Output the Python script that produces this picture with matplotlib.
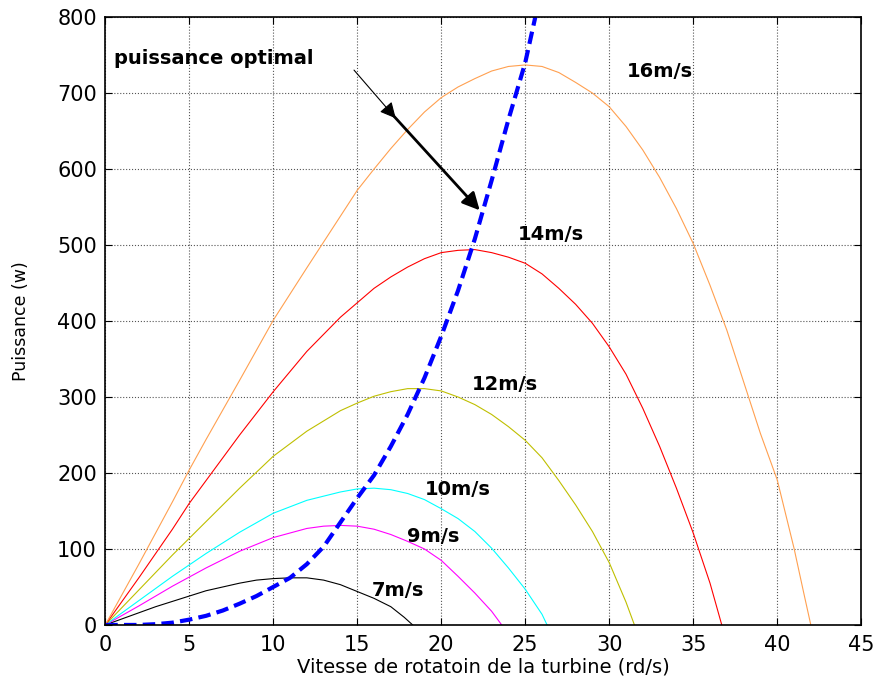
import matplotlib
matplotlib.use("Agg")
import matplotlib.pyplot as plt

# puissance vs vitesse de rotation, une courbe par vitesse de vent
v7_x = [0, 1, 2, 3, 4, 5, 6, 7, 8, 9, 10, 11, 12, 13, 14, 15, 16, 17, 17.8, 18.3]
v7_p = [0, 8, 16, 24, 31, 38, 45, 50, 55, 59, 61, 62, 62, 59, 53, 44, 35, 24, 10, 0]

v9_x = [0, 2, 4, 5, 6, 8, 10, 12, 13, 14, 15, 16, 17, 18, 19, 20, 21, 22, 23, 23.6]
v9_p = [0, 25, 51, 63, 75, 97, 115, 127, 130, 131, 130, 126, 119, 110, 100, 85, 64, 42, 18, 0]

v10_x = [0, 2, 4, 5, 6, 8, 10, 12, 14, 15, 16, 17, 18, 19, 20, 21, 22, 23, 24, 25, 26, 26.3]
v10_p = [0, 32, 64, 79, 94, 122, 147, 164, 175, 179, 180, 178, 173, 165, 153, 140, 123, 101, 75, 47, 14, 0]

v12_x = [0, 2, 4, 5, 6, 8, 10, 12, 14, 15, 16, 17, 18, 19, 20, 21, 22, 23, 24, 25,
         26, 27, 28, 29, 30, 31, 31.5]
v12_p = [0, 46, 92, 114, 136, 180, 222, 255, 282, 292, 301, 307, 311, 311, 308, 300,
         290, 277, 261, 243, 220, 190, 158, 123, 82, 30, 0]

v14_x = [0, 2, 4, 5, 6, 8, 10, 12, 14, 15, 16, 17, 18, 19, 20, 21, 22, 23, 24, 25,
         26, 27, 28, 29, 30, 31, 32, 33, 34, 35, 36, 36.7]
v14_p = [0, 62, 126, 160, 190, 250, 307, 360, 405, 424, 443, 458, 471, 482, 490, 493,
         494, 490, 484, 476, 462, 443, 422, 397, 366, 330, 285, 235, 180, 121, 55, 0]

v16_x = [0, 2, 4, 5, 6, 8, 10, 12, 14, 15, 16, 17, 18, 19, 20, 21, 22, 23, 24, 25,
         26, 27, 28, 29, 30, 31, 32, 33, 34, 35, 36, 37, 38, 39, 40, 41, 41.6, 42]
v16_p = [0, 80, 162, 204, 244, 322, 401, 470, 538, 572, 600, 627, 652, 675, 694, 708,
         719, 729, 735, 737, 735, 727, 714, 700, 682, 656, 625, 589, 548, 502, 447, 388,
         320, 252, 191, 101, 40, 0]

opt_x = [0, 2, 3, 4, 5, 6, 7, 8, 9, 10, 11, 12, 13, 14, 15, 16, 17, 18, 19, 20, 21,
         22, 23, 24, 25, 25.6]
opt_p = [0, 0, 1, 3, 7, 12, 19, 28, 38, 50, 62, 80, 103, 135, 167, 197, 235, 277,
         325, 380, 440, 508, 585, 665, 740, 800]

labels = ["16m/s", "14m/s", "12m/s", "10m/s", "9m/s", "7m/s"]
label_x = [33.0, 26.5, 23.8, 21.0, 19.5, 17.4]
label_y = [728, 514, 317, 178, 116, 45]

fig = plt.figure(figsize=(8.77, 6.83), dpi=100)
ax = fig.add_axes([0.12, 0.085, 0.862, 0.89])

ax.plot(v7_x, v7_p, color="black", lw=0.8)
ax.plot(v9_x, v9_p, color="#ff00ff", lw=0.8)
ax.plot(v10_x, v10_p, color="#00ffff", lw=0.8)
ax.plot(v12_x, v12_p, color="#bfbf00", lw=0.8)
ax.plot(v14_x, v14_p, color="#ff0000", lw=0.8)
ax.plot(v16_x, v16_p, color="#ffa050", lw=0.8)
ax.plot(opt_x, opt_p, color="#0000ff", lw=3, ls=(0, (3, 1.5)))

for i in range(len(labels)):
    ax.text(label_x[i], label_y[i], labels[i], fontsize=14, fontweight="bold",
            ha="center", va="center")

# texte + fleches "puissance optimal"
ax.text(0.5, 746, "puissance optimal", fontsize=14, fontweight="bold",
        ha="left", va="center")
ax.annotate("", xy=(17.4, 664), xytext=(14.7, 733),
            arrowprops=dict(arrowstyle="-|>", color="black", lw=0.8, mutation_scale=24))
ax.annotate("", xy=(22.4, 543), xytext=(17.0, 674),
            arrowprops=dict(arrowstyle="-|>", color="black", lw=2, mutation_scale=26))

ax.set_xlim(0, 45)
ax.set_ylim(0, 800)
ax.set_xticks(range(0, 46, 5))
ax.set_yticks(range(0, 801, 100))
ax.grid(True, color="#555555", ls=":", lw=0.8)
ax.tick_params(direction="in", top=True, right=True, labelsize=15, length=5)
ax.tick_params(axis="x", pad=7)
ax.tick_params(axis="y", pad=6)
for s in ax.spines.values():
    s.set_linewidth(1.2)

ax.set_xlabel("Vitesse de rotatoin de la turbine (rd/s)", fontsize=14)
ax.set_ylabel("Puissance (w)", fontsize=12.5)
ax.xaxis.set_label_coords(0.5, -0.054)
ax.yaxis.set_label_coords(-0.099, 0.5)

fig.savefig("out.png", dpi=100)
